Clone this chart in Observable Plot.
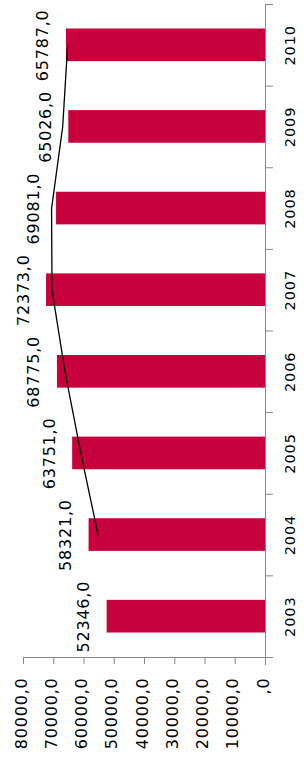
<!DOCTYPE html>
<html>
<head>
<meta charset="utf-8">
<script src="https://cdn.jsdelivr.net/npm/d3@7"></script>
<script src="https://cdn.jsdelivr.net/npm/@observablehq/plot@0.6"></script>
<style>
  html, body { margin: 0; padding: 0; background: #fff; }
  #chart { width: 304px; height: 758px; overflow: hidden; }
  #chart svg, #chart svg text { font-family: "DejaVu Sans", sans-serif !important; }
</style>
</head>
<body>
<div id="chart"></div>
<script>
const years = [2003, 2004, 2005, 2006, 2007, 2008, 2009, 2010];
const values = [52346, 58321, 63751, 68775, 72373, 69081, 65026, 65787];
const xTicks = [0, 10000, 20000, 30000, 40000, 50000, 60000, 70000, 80000];
const xTickLabels = [",0", "10000,0", "20000,0", "30000,0", "40000,0", "50000,0", "60000,0", "70000,0", "80000,0"];

const data = years.map((year, i) => ({year, value: values[i]}));
const boundaries = years.map(y => y - 0.5).concat([years[years.length - 1] + 0.5]);
const fmt = v => v.toFixed(1).replace(".", ",");
const gray = "#898989";

const plot = Plot.plot({
  width: 304,
  height: 758,
  marginLeft: 23,
  marginRight: 39,
  marginTop: 4,
  marginBottom: 101,
  style: {fontFamily: "DejaVu Sans", background: "#fff", color: "#000", overflow: "visible"},
  x: {domain: [0, 80000], reverse: true},
  y: {domain: [years[0] - 0.5, years[years.length - 1] + 0.5]},
  marks: [
    Plot.rectX(data, {x1: 0, x2: "value", y1: d => d.year - 0.2, y2: d => d.year + 0.2, fill: "#c8003c"}),
    Plot.line(data, Plot.windowX({k: 2, anchor: "end", strict: true}, {x: "value", y: "year", stroke: "#000", strokeWidth: 1.3})),
    Plot.ruleY([years[0] - 0.5], {x1: 80000, x2: 0, insetRight: -7, stroke: gray}),
    Plot.ruleX([0], {insetBottom: -8, stroke: gray}),
    Plot.axisY({anchor: "right", ticks: boundaries, tickSize: 7, tickFormat: () => "", stroke: gray, label: null}),
    Plot.axisX({anchor: "bottom", ticks: xTicks, tickSize: 7, tickFormat: () => "", stroke: gray, label: null}),
    Plot.text(data, {x: "value", y: "year", text: d => fmt(d.value), rotate: -90, textAnchor: "middle", lineAnchor: "bottom", dx: -18, fontSize: 16, fill: "#000"}),
    Plot.text(data, {y: "year", text: d => String(d.year), frameAnchor: "right", rotate: -90, textAnchor: "middle", lineAnchor: "middle", dx: 24.5, fontSize: 14.5, fill: "#000"}),
    Plot.text(xTicks, {x: d => d, text: (d, i) => xTickLabels[i], frameAnchor: "bottom", rotate: -90, textAnchor: "end", lineAnchor: "middle", dy: 20, dx: -2, fontSize: 16, fill: "#000"})
  ]
});
document.getElementById("chart").appendChild(plot);
plot.querySelectorAll("text").forEach(t => {
  const fs = parseFloat(getComputedStyle(t).fontSize);
  if (fs >= 15.5) t.setAttribute("letter-spacing", "0.8");
  else if (fs >= 14) t.setAttribute("letter-spacing", "0.9");
});
</script>
</body>
</html>
